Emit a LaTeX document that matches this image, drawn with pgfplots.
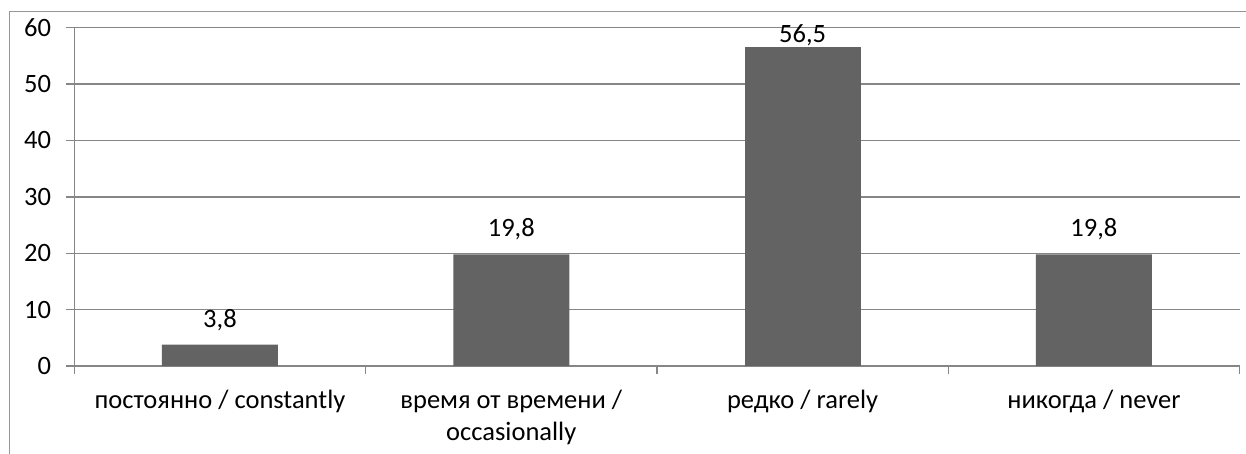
\documentclass[border=0pt]{standalone}
\usepackage{pgfplots}
\pgfplotsset{compat=1.18}
\usepackage{fontspec}
\setmainfont{Carlito}
\definecolor{gridgray}{RGB}{134,134,134}
\definecolor{bordergray}{RGB}{150,150,150}
\definecolor{barcol}{RGB}{99,99,99}
\newcommand{\lbl}{\fontsize{26.5bp}{32bp}\selectfont}
\begin{document}
\lbl
\begin{tikzpicture}[x=1bp,y=1bp]
\useasboundingbox (0,0) rectangle (1246,-454);
\draw[bordergray, line width=1.3bp] (9.3,-454) -- (9.3,-11.7) -- (1246,-11.7);
\begin{axis}[
  at={(74.3bp,-366bp)}, anchor=south west,
  scale only axis, width=1165.3bp, height=338.3bp,
  xmin=0, xmax=4, ymin=0, ymax=60,
  axis x line*=bottom, axis y line*=left,
  axis line style={draw=gridgray, line width=1.3bp},
  ytick={0,10,...,60},
  ymajorgrids, grid style={draw=gridgray, line width=1.3bp},
  tick align=outside,
  major tick length=8bp, minor tick length=8bp,
  tick style={draw=gridgray, line width=1.3bp},
  xtick={0.5,1.5,2.5,3.5},
  major x tick style={draw=none},
  minor xtick={0,1,2,3,4},
  xticklabels={{\strut постоянно / constantly},{\strut время от времени /\\occasionally},{\strut редко / rarely},{\strut никогда / never}},
  xticklabel style={align=center, font=\lbl, anchor=north, yshift=-12bp, inner sep=0pt},
  yticklabel style={font=\lbl, anchor=east, inner sep=0pt, xshift=-15bp},
  /pgf/number format/assume math mode=true,
  ybar, bar width=116bp,
  point meta=explicit symbolic,
  nodes near coords={\pgfplotspointmeta},
  nodes near coords style={font=\lbl, anchor=base, inner sep=0pt, text=black},
  clip=false,
]
\addplot[fill=barcol, draw=none, bar shift=0pt, every node near coord/.append style={yshift=17.5bp}]
  coordinates {(0.5,3.8) [3,8] (1.5,19.8) [19,8] (3.5,19.8) [19,8]};
\addplot[fill=barcol, draw=none, bar shift=0pt, every node near coord/.append style={yshift=5.3bp}]
  coordinates {(2.5,56.5) [56,5]};
\end{axis}
\end{tikzpicture}
\end{document}
